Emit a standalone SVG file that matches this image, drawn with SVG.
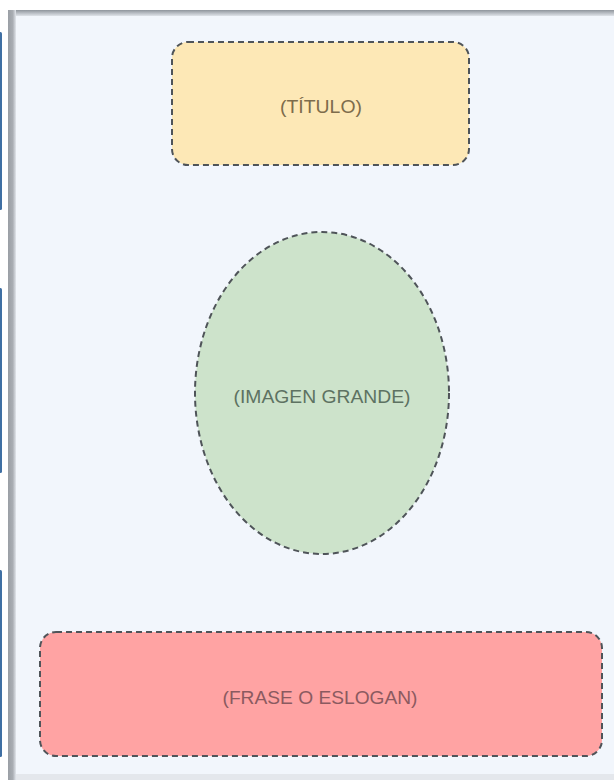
<svg xmlns="http://www.w3.org/2000/svg" width="614" height="780" viewBox="0 0 614 780">
  <defs>
    <linearGradient id="gTop" x1="0" y1="0" x2="0" y2="1">
      <stop offset="0" stop-color="#8f959c"/>
      <stop offset="1" stop-color="#dfe3e9"/>
    </linearGradient>
    <linearGradient id="gLeft" x1="0" y1="0" x2="1" y2="0">
      <stop offset="0" stop-color="#9a9fa5"/>
      <stop offset="0.6" stop-color="#a9adb3"/>
      <stop offset="1" stop-color="#e2e6ec"/>
    </linearGradient>
  </defs>
  <style>
    .shape { stroke: #4f5459; stroke-width: 2; stroke-dasharray: 6 4; }
    .lbl { font-family: "Liberation Sans", Arial, sans-serif; font-size: 18.5px; text-anchor: middle; dominant-baseline: central; }
    .blue { fill: #3f6fa3; }
  </style>
  <rect x="0" y="0" width="614" height="780" fill="#ffffff"/>
  <rect x="8" y="10" width="606" height="770" fill="#f2f6fc"/>
  <rect x="8" y="10" width="606" height="6" fill="url(#gTop)"/>
  <rect x="8" y="10" width="8" height="770" fill="url(#gLeft)"/>
  <rect x="16" y="774" width="598" height="6" fill="#e4e7ec"/>
  <rect class="blue" x="-1" y="32" width="3" height="178" rx="1.5"/>
  <rect class="blue" x="-1" y="288" width="3" height="185" rx="1.5"/>
  <rect class="blue" x="-1" y="570" width="3" height="187" rx="1.5"/>

  <g id="titulo">
    <rect class="shape" x="172" y="42" width="297" height="123" rx="16" fill="#fde8b6"/>
    <text class="lbl" x="321" y="106" fill="#7d6c4c" textLength="82" lengthAdjust="spacingAndGlyphs">(TÍTULO)</text>
  </g>
  <g id="imagen">
    <ellipse class="shape" cx="322" cy="393" rx="127" ry="161" fill="#cde3cb"/>
    <text class="lbl" x="322" y="396" fill="#5d7262" textLength="177" lengthAdjust="spacingAndGlyphs">(IMAGEN GRANDE)</text>
  </g>
  <g id="frase">
    <rect class="shape" x="40" y="632" width="562" height="124" rx="16" fill="#ffa3a3"/>
    <text class="lbl" x="320" y="697" fill="#8b5a60" textLength="195" lengthAdjust="spacingAndGlyphs">(FRASE O ESLOGAN)</text>
  </g>
  <g id="connectors"></g>
</svg>
